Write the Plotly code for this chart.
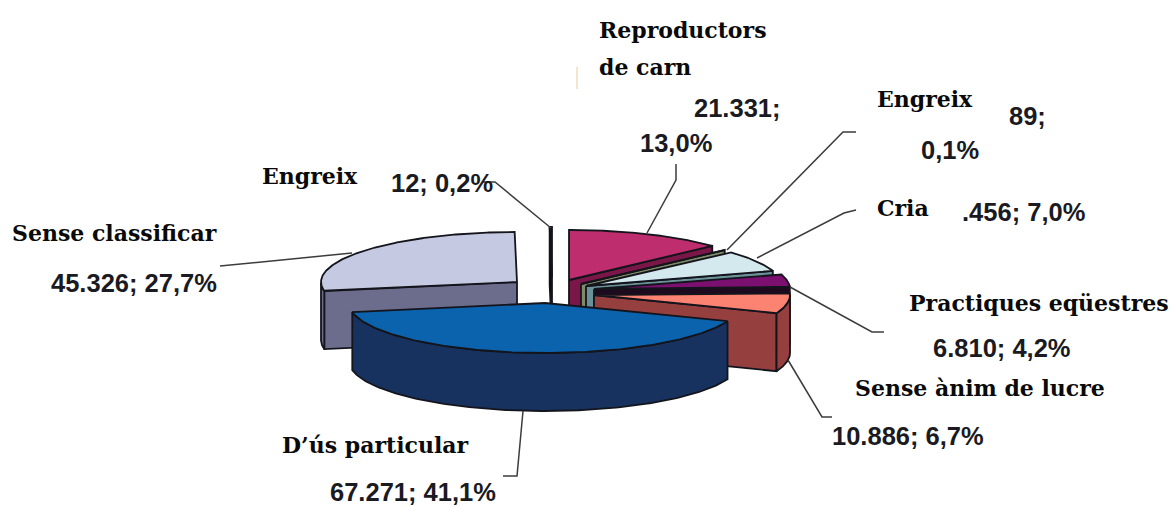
import numpy as np
import plotly.graph_objects as go

# --- data (clockwise from 12 o'clock) ---
categories = ["Reproductors de carn", "Engreix", "Cria", "Practiques eqüestres",
              "Sense ànim de lucre", "D'ús particular", "Sense classificar", "Engreix (2)"]
values = [21331, 89, 11456, 6810, 10886, 67271, 45326, 312]

# --- style / layout, per slice ---
top_colors = ["#BE2E6F", "#A4A882", "#D3E9EE", "#7C1070", "#FC8272", "#0B63AE", "#C5C9E2", "#111111"]
side_colors = ["#7A1748", "#7F8A66", "#6B9298", "#1E0A1E", "#953F3E", "#17325E", "#6C6C8C", "#000000"]
apex_x = [569, 581, 586, 594, 594, 545, 517, 552]
apex_y = [280, 284, 286, 289, 295, 303, 282, 277]
RX, RY, DEPTH = 196, 50, 58
EDGE = "#14141c"

# --- text ---
name_text = ["Reproductors", "de carn", "Engreix", "Cria", "Practiques eqüestres",
             "Sense ànim de lucre", "D’ús particular", "Sense classificar", "Engreix"]
name_x = [599, 599, 877, 877, 909, 855, 282, 12, 262]
name_y = [30, 67, 99, 208, 303, 388, 445, 233, 176]
num_text = ["21.331;", "13,0%", "89;", "0,1%", ".456; 7,0%", "6.810; 4,2%",
            "10.886; 6,7%", "67.271; 41,1%", "45.326; 27,7%", "12; 0,2%"]
num_x = [694, 640, 1009, 921, 962, 933, 832, 330, 51, 391]
num_y = [108, 143, 116, 150, 212, 348, 436, 492, 283, 183]

# --- leader lines ---
leaders = [
    ([647, 676, 676], [233, 180, 164]),
    ([727, 843, 856], [250, 132, 132]),
    ([757, 844, 856], [258, 213, 210]),
    ([790, 872, 884], [287, 332, 332]),
    ([788, 822, 832], [360, 417, 417]),
    ([523, 517, 503], [411, 476, 476]),
    ([352, 253, 220], [253, 263, 266]),
    ([551, 495, 483], [228, 182, 182]),
]

fig = go.Figure()


def poly(xs, ys, fill):
    fig.add_trace(go.Scatter(x=xs, y=ys, mode="lines", fill="toself", fillcolor=fill,
                             line=dict(color=EDGE, width=1.8), hoverinfo="skip", showlegend=False))


fractions = np.array(values) / sum(values)
ends = np.cumsum(fractions) * 2 * np.pi
starts = ends - fractions * 2 * np.pi

# paint from the back of the pie to the front
order = [6, 7, 0, 1, 2, 3, 4, 5]
for i in order:
    a0, a1, ax, ay = starts[i], ends[i], apex_x[i], apex_y[i]
    t = np.linspace(a0, a1, 160)
    ex = ax + RX * np.sin(t)
    ey = ay - RY * np.cos(t)
    for ang in (a0, a1):
        visible = (ang == a1 and np.sin(ang) > 0) or (ang == a0 and np.sin(ang) < 0)
        if visible:
            px, py = ax + RX * np.sin(ang), ay - RY * np.cos(ang)
            poly([ax, px, px, ax, ax], [ay, py, py + DEPTH, ay + DEPTH, ay], side_colors[i])
    mask = np.cos(t) < 0
    if mask.any():
        rx, ry = ex[mask], ey[mask]
        poly(np.r_[rx, rx[::-1], rx[0]], np.r_[ry, ry[::-1] + DEPTH, ry[0]], side_colors[i])
    poly(np.r_[ax, ex, ax], np.r_[ay, ey, ay], top_colors[i])

for lx, ly in leaders:
    fig.add_trace(go.Scatter(x=lx, y=ly, mode="lines", line=dict(color="#3c3c3c", width=1.5),
                             hoverinfo="skip", showlegend=False))

# small stray mark in the scan
fig.add_trace(go.Scatter(x=[577, 577], y=[67, 89], mode="lines", line=dict(color="#F0DDBE", width=1.5),
                         hoverinfo="skip", showlegend=False))

for s, x, y in zip(name_text, name_x, name_y):
    fig.add_annotation(x=x, y=y, text=s, showarrow=False, xanchor="left", yanchor="middle",
                       xshift=-2, font=dict(family="DejaVu Serif", size=22, color="#0a0a0a", weight="bold"))
for s, x, y in zip(num_text, num_x, num_y):
    fig.add_annotation(x=x, y=y, text=s, showarrow=False, xanchor="left", yanchor="middle",
                       xshift=-2, font=dict(family="Liberation Sans", size=25.5, color="#1a1a22", weight="bold"))

fig.update_layout(
    width=1174, height=506, margin=dict(l=0, r=0, t=0, b=0),
    paper_bgcolor="white", plot_bgcolor="white", showlegend=False,
    xaxis=dict(range=[0, 1174], visible=False, fixedrange=True),
    yaxis=dict(range=[506, 0], visible=False, fixedrange=True),
)
fig.write_html("out.html", config=dict(displayModeBar=False),
               post_script="document.body.style.margin='0';document.body.style.overflow='hidden';")
